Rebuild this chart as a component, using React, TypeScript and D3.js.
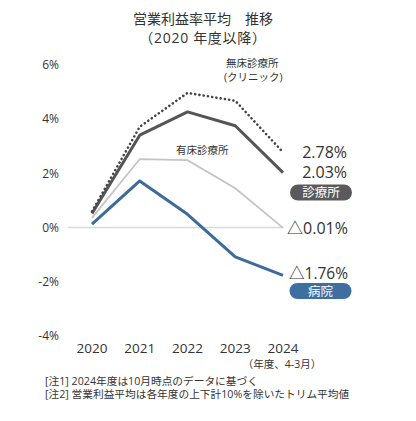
import React from "react";
import * as d3 from "d3";

const years = ["2020", "2021", "2022", "2023", "2024"];
const clinicNoBed = [0.6, 3.72, 4.97, 4.68, 2.78];
const clinic = [0.52, 3.41, 4.27, 3.76, 2.03];
const clinicBed = [0.36, 2.53, 2.49, 1.45, -0.01];
const hospital = [0.13, 1.72, 0.49, -1.08, -1.76];
const yTicks = [6, 4, 2, 0, -2, -4];
const endLabels = ["2.78%", "2.03%", "△0.01%", "△1.76%"];

const W = 416;
const H = 421;
const FONT = "'Open Sans', 'Noto Sans CJK JP', sans-serif";
const TXT = "#333";

export default function App() {
  const x = d3.scalePoint<string>().domain(years).range([92, 283]);
  const y = d3.scaleLinear().domain([-4, 6]).range([336, 65]);
  const line = d3
    .line<number>()
    .x((_, i) => x(years[i]) as number)
    .y((d) => y(d));

  const lastX = x(years[years.length - 1]) as number;

  return (
    <svg
      width={W}
      height={H}
      style={{ position: "absolute", left: 0, top: 0, background: "#fff" }}
      fontFamily={FONT}
    >
      {/* Title */}
      <text x={203} y={24} textAnchor="middle" fontSize={14} fill={TXT}>
        営業利益率平均　推移
      </text>
      <text x={203} y={43} textAnchor="middle" fontSize={14} fill={TXT} letterSpacing={0.7}>
        （2020 年度以降）
      </text>

      {/* Y axis labels */}
      {yTicks.map((t) => (
        <text
          key={t}
          x={59}
          y={y(t)}
          dy="0.35em"
          textAnchor="end"
          fontSize={12}
          fill={TXT}
        >
          {t}%
        </text>
      ))}

      {/* zero line */}
      <line x1={68} x2={lastX} y1={y(0)} y2={y(0)} stroke="#d9d9d9" strokeWidth={1.5} />

      {/* X labels */}
      {years.map((yr) => (
        <text
          key={yr}
          x={x(yr) as number}
          y={353}
          textAnchor="middle"
          fontSize={13.5}
          fill={TXT}
        >
          {yr}
        </text>
      ))}
      <text x={282} y={368} textAnchor="middle" fontSize={10.5} fill={TXT}>
        （年度、4-3月）
      </text>

      {/* Lines */}
      <path d={line(clinicBed) || ""} fill="none" stroke="#c4c4c4" strokeWidth={1.8} />
      <path d={line(hospital) || ""} fill="none" stroke="#3e6b9a" strokeWidth={3} strokeLinejoin="round" />
      <path d={line(clinic) || ""} fill="none" stroke="#555555" strokeWidth={3} strokeLinejoin="round" />
      <path
        d={line(clinicNoBed) || ""}
        fill="none"
        stroke="#444444"
        strokeWidth={2.6}
        strokeDasharray="0.1 4.2"
        strokeLinecap="round"
      />

      {/* Series labels */}
      <text x={226} y={67} fontSize={10.5} fill={TXT}>
        無床診療所
      </text>
      <text x={224} y={81} fontSize={10.5} fill={TXT}>
        (クリニック)
      </text>
      <text x={176} y={154} fontSize={10.5} fill={TXT}>
        有床診療所
      </text>

      {/* End labels */}
      <text x={347} y={y(clinicNoBed[4])} dy="0.36em" textAnchor="end" fontSize={16} fill={TXT}>
        {endLabels[0]}
      </text>
      <text x={347} y={y(clinic[4])} dy="0.36em" textAnchor="end" fontSize={16} fill={TXT}>
        {endLabels[1]}
      </text>
      <text x={348} y={y(clinicBed[4])} dy="0.36em" textAnchor="end" fontSize={16} fill={TXT}>
        {endLabels[2]}
      </text>
      <text x={348} y={y(hospital[4]) - 2} dy="0.36em" textAnchor="end" fontSize={15.5} fill={TXT}>
        {endLabels[3]}
      </text>

      {/* Badges */}
      <rect x={290} y={184.5} width={62} height={16} rx={8} fill="#5a5a5a" />
      <text x={321} y={192.5} dy="0.36em" textAnchor="middle" fontSize={12.5} fill="#fff">
        診療所
      </text>
      <rect x={289.5} y={283} width={62} height={16} rx={8} fill="#3e6fa0" />
      <text x={320.5} y={291} dy="0.36em" textAnchor="middle" fontSize={12.5} fill="#fff">
        病院
      </text>

      {/* Notes */}
      <text x={45} y={385} fontSize={10.7} fill={TXT}>
        [注1] 2024年度は10月時点のデータに基づく
      </text>
      <text x={45} y={398} fontSize={10.7} fill={TXT}>
        [注2] 営業利益平均は各年度の上下計10%を除いたトリム平均値
      </text>
    </svg>
  );
}
